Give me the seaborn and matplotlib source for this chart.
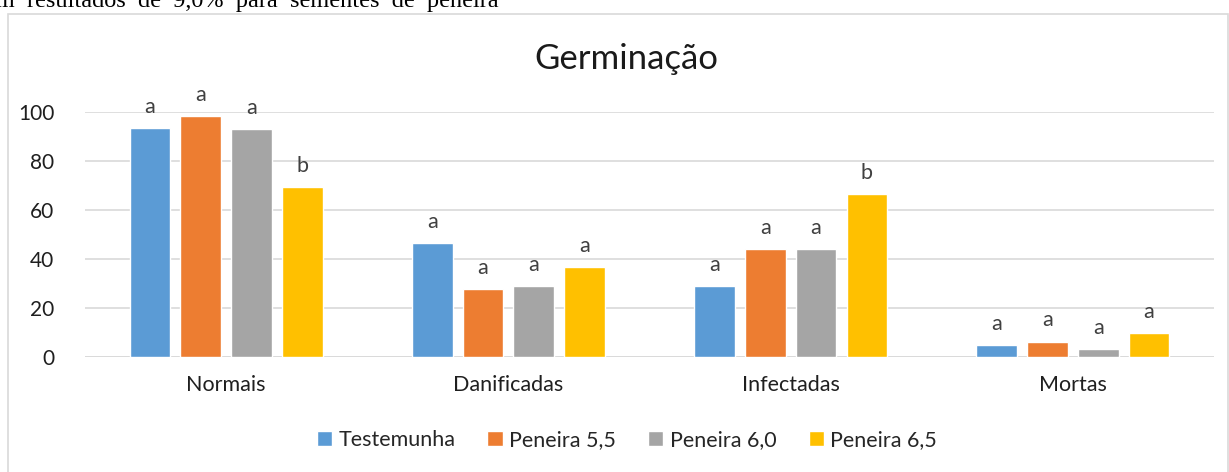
import matplotlib
matplotlib.use("Agg")
import matplotlib.pyplot as plt
import pandas as pd
import seaborn as sns
from matplotlib.patches import Rectangle

categories = ["Normais", "Danificadas", "Infectadas", "Mortas"]
treatments = ["Testemunha", "Peneira 5,5", "Peneira 6,0", "Peneira 6,5"]
values = {
    "Testemunha": [93.6, 46.4, 28.8, 4.8],
    "Peneira 5,5": [98.4, 27.9, 44.0, 6.3],
    "Peneira 6,0": [92.9, 28.8, 44.0, 3.1],
    "Peneira 6,5": [69.5, 36.7, 66.4, 9.7],
}
letters = {
    "Testemunha": ["a", "a", "a", "a"],
    "Peneira 5,5": ["a", "a", "a", "a"],
    "Peneira 6,0": ["a", "a", "a", "a"],
    "Peneira 6,5": ["b", "a", "b", "a"],
}
colors = ["#5B9BD5", "#ED7D31", "#A5A5A5", "#FFC000"]
yticks = [0, 20, 40, 60, 80, 100]

rows = []
for t in treatments:
    for c, v in zip(categories, values[t]):
        rows.append({"categoria": c, "tratamento": t, "valor": v})
df = pd.DataFrame(rows)

sns.set_theme(style="white")
plt.rcParams["font.family"] = ["Lato", "DejaVu Sans"]

fig = plt.figure(figsize=(12.29, 4.72), dpi=100)
ax = fig.add_axes([0.0692, 0.2436, 0.9186, 0.5191])

sns.barplot(
    data=df, x="categoria", y="valor", hue="tratamento",
    order=categories, hue_order=treatments, palette=colors,
    width=0.72, gap=0.2, saturation=1, ax=ax, legend=True,
)

for cont, t in zip(ax.containers, treatments):
    ax.bar_label(cont, labels=letters[t], padding=8, fontsize=15.5,
                 color="#404040", clip_on=False)

ax.set_ylim(0, 100)
ax.set_xlim(-0.5, 3.5)
ax.set_yticks(yticks)
ax.yaxis.grid(True, color="#D9D9D9", linewidth=1.2)
ax.set_axisbelow(True)
for s in ax.spines.values():
    s.set_visible(False)
ax.axhline(0, color="#D9D9D9", linewidth=1.2, zorder=0.5)
ax.tick_params(axis="y", length=0, pad=22, labelsize=15, labelcolor="#1f1f1f")
ax.tick_params(axis="x", length=0, pad=13, labelsize=15.5, labelcolor="#1f1f1f")
ax.set_xlabel("")
ax.set_ylabel("")

handles, labels = ax.get_legend_handles_labels()
ax.get_legend().remove()
fig.legend(handles, labels, loc="center", bbox_to_anchor=(0.51, 1 - 440 / 472),
           ncol=4, frameon=False, fontsize=15.5, handlelength=0.7, handleheight=0.7,
           handletextpad=0.3, columnspacing=1.5)

fig.text(0.51, 1 - 59 / 472, "Germinação", ha="center", va="center",
         fontsize=25, color="#1a1a1a")

# chart frame and cut-off paragraph text above it
fig.patches.append(Rectangle((8 / 1229, -0.1), 1220 / 1229, 1.1 - 14 / 472,
                             transform=fig.transFigure, fill=False,
                             edgecolor="#D9D9D9", linewidth=1.2))
fig.text(-0.012, 1 - 7.5 / 472, "em  resultados  de  9,0%  para  sementes  de  peneira",
         ha="left", va="baseline", fontsize=17.5, family="Liberation Serif", color="black")

fig.savefig("out.png", dpi=100)
